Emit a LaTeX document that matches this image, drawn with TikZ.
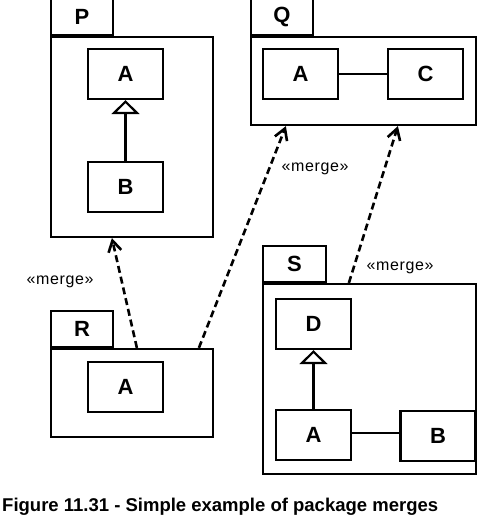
\documentclass[tikz,border=0pt]{standalone}
\usepackage{fontspec}
\setmainfont{Liberation Sans}
\usetikzlibrary{arrows.meta,positioning,calc}

\begin{document}
\begin{tikzpicture}[x=1pt, y=-1pt,
			pkg/.style={rectangle, draw=black, line width=2.2pt, fill=white,
				inner sep=0pt},
			tab/.style={rectangle, draw=black, line width=2.2pt, fill=white,
				minimum width=62pt, minimum height=36pt, inner sep=0pt,
				font=\fontsize{22}{26}\selectfont\bfseries},
			cls/.style={rectangle, draw=black, line width=2.2pt, fill=white,
				minimum width=75pt, minimum height=50pt, inner sep=0pt,
				font=\fontsize{22}{26}\selectfont\bfseries},
			gen/.style={draw, line width=2.2pt,
				-{Triangle[open, length=14pt, width=28pt, fill=white]}},
			assoc/.style={draw, line width=2.2pt},
			merge/.style={draw, line width=2.6pt, dash pattern=on 7pt off 4pt,
				-{Straight Barb[length=11pt, width=13pt]}},
			stereo/.style={font=\fontsize{16}{18}\selectfont\addfontfeature{LetterSpace=4}}]
			
			\useasboundingbox (0,0) rectangle (488,515);
			
			% Package P
			\node[pkg, minimum width=162pt, minimum height=200pt] (P) at (132,137) {};
			\node[tab, anchor=south west] (Ptab) at (P.north west) {P};
			\node[cls] (PA) at (125.5,74) {A};
			\node[cls] (PB) at (125.5,187) {B};
			\path[gen] (PB) -- (PA);
			
			% Package Q
			\node[pkg, minimum width=225pt, minimum height=88pt] (Q) at (363.5,81) {};
			\node[tab, anchor=south west] (Qtab) at (Q.north west) {Q};
			\node[cls] (QA) at (300.5,74) {A};
			\node[cls] (QC) at (425.5,74) {C};
			\path[assoc] (QA) -- (QC);
			
			% Package R
			\node[pkg, minimum width=162pt, minimum height=88pt] (R) at (132,393) {};
			\node[tab, anchor=south west] (Rtab) at (R.north west) {R};
			\node[cls] (RA) at (125.5,387) {A};
			
			% Package S
			\node[pkg, minimum width=213pt, minimum height=190pt] (S) at (369.5,379) {};
			\node[tab, anchor=south west, minimum width=63pt] (Stab) at (S.north west) {S};
			\node[cls] (SD) at (313.5,324) {D};
			\node[cls] (SA) at (313.5,435) {A};
			\node[cls] (SB) at (438,436) {B};
			\path[gen] (SA) -- (SD);
			\path[assoc] ([yshift=2pt]SA.east) -- ([yshift=2pt]SA.east -| SB.west);
			
			% Merges
			\path[merge] ([xshift=87pt]R.north west) -- ([xshift=62pt]P.south west);
			\path[merge] ([xshift=149pt]R.north west) -- ([xshift=36pt]Q.south west);
			\path[merge] ([xshift=87pt]S.north west) -- ([xshift=148pt]Q.south west);
			\node[stereo] (M1) at (60,282) {«merge»};
			\node[stereo] (M2) at (315,169) {«merge»};
			\node[stereo] (M3) at (400,268) {«merge»};
			
			% Caption
			\node[anchor=base west, inner sep=0pt, font=\fontsize{18.5}{22}\selectfont\bfseries]
				(cap) at (2,511) {Figure 11.31 - Simple example of package merges};
		\end{tikzpicture}
\end{document}
